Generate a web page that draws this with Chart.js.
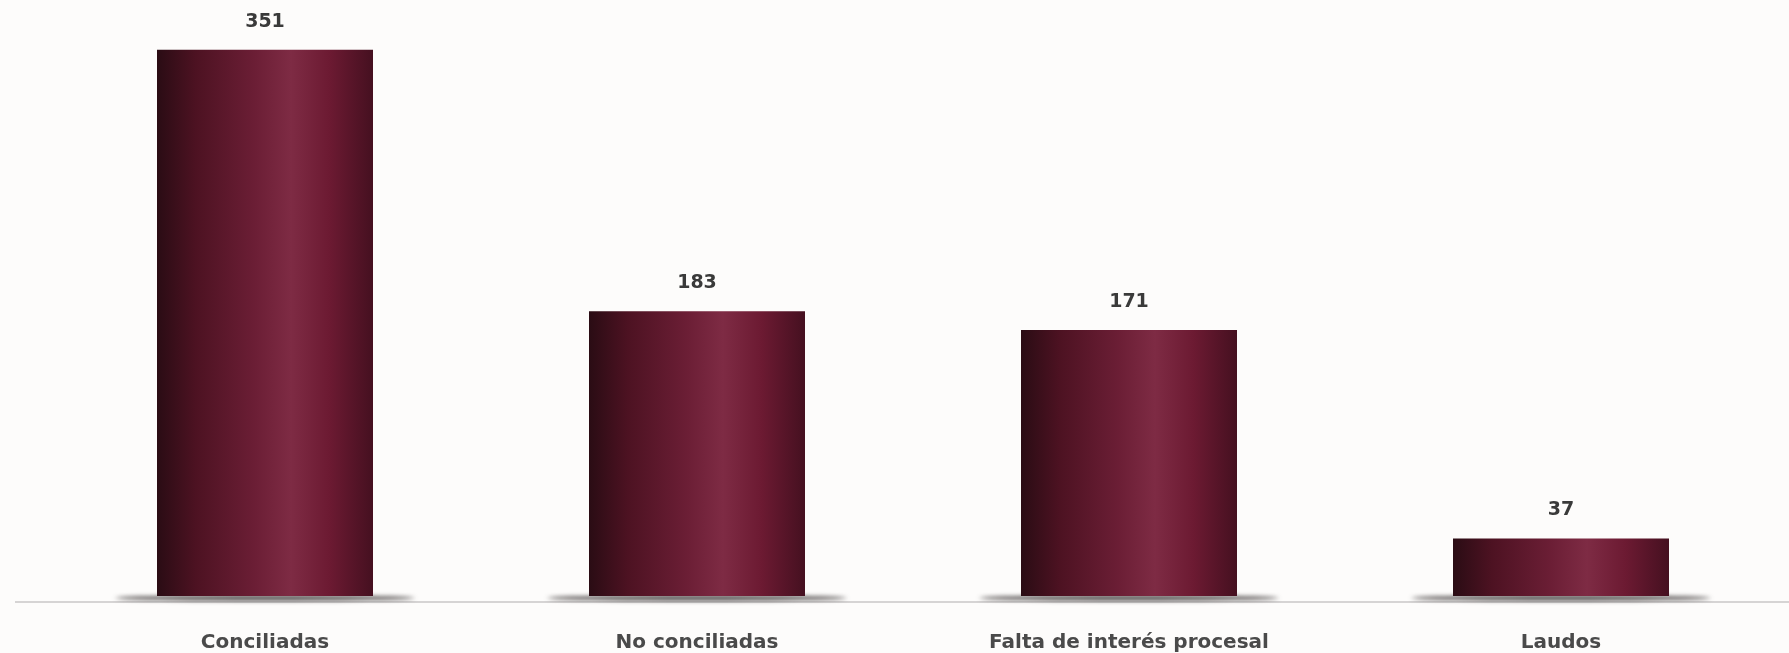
<!DOCTYPE html>
<html>
<head>
<meta charset="utf-8">
<script src="https://cdn.jsdelivr.net/npm/chart.js@4"></script>
<style>
  html, body { margin: 0; padding: 0; background: #fdfcfb; }
  #wrap { width: 1789px; height: 653px; position: relative; }
</style>
</head>
<body>
<div id="wrap"><canvas id="c" width="1789" height="653"></canvas></div>
<script>
const categories = ["Conciliadas", "No conciliadas", "Falta de interés procesal", "Laudos"];
const values = [351, 183, 171, 37];

function barGradient(context) {
  const chart = context.chart;
  const xs = chart.scales.x;
  if (!xs || !chart.chartArea) return '#6a1a30';
  const cx = xs.getPixelForValue(context.dataIndex);
  const w = (xs.width / categories.length) * 0.5;
  const g = chart.ctx.createLinearGradient(cx - w / 2, 0, cx + w / 2, 0);
  g.addColorStop(0, '#2a0c14');
  g.addColorStop(0.18, '#4d1222');
  g.addColorStop(0.45, '#6b1e35');
  g.addColorStop(0.62, '#7e2b44');
  g.addColorStop(0.8, '#6c1a32');
  g.addColorStop(1, '#451020');
  return g;
}

const decor = {
  id: 'decor',
  beforeDatasetsDraw(chart) {
    const ctx = chart.ctx;
    const area = chart.chartArea;
    ctx.save();
    ctx.strokeStyle = '#d6d4d4';
    ctx.lineWidth = 2;
    ctx.beginPath();
    ctx.moveTo(15, area.bottom + 6);
    ctx.lineTo(chart.width, area.bottom + 6);
    ctx.stroke();
    const meta = chart.getDatasetMeta(0);
    meta.data.forEach((bar) => {
      const w = bar.width;
      ctx.save();
      ctx.filter = 'blur(2px)';
      ctx.fillStyle = 'rgba(45,40,40,0.75)';
      ctx.beginPath();
      ctx.ellipse(bar.x, area.bottom + 2, w / 2 + 42, 3, 0, 0, Math.PI * 2);
      ctx.fill();
      ctx.restore();
    });
    ctx.restore();
  },
  afterDatasetsDraw(chart) {
    const ctx = chart.ctx;
    const meta = chart.getDatasetMeta(0);
    ctx.save();
    ctx.font = 'bold 19px "DejaVu Sans"';
    ctx.fillStyle = '#3a3a3a';
    ctx.textAlign = 'center';
    ctx.textBaseline = 'middle';
    meta.data.forEach((bar, i) => {
      ctx.fillText(String(values[i]), bar.x, bar.y - 28);
    });
    ctx.restore();
  }
};

new Chart(document.getElementById('c'), {
  type: 'bar',
  data: {
    labels: categories,
    datasets: [{
      data: values,
      backgroundColor: barGradient,
      borderWidth: 0,
      barPercentage: 0.5,
      categoryPercentage: 1.0
    }]
  },
  options: {
    responsive: false,
    animation: false,
    layout: { padding: { left: 49, right: 12, top: 0, bottom: 0 } },
    plugins: { legend: { display: false }, tooltip: { enabled: false } },
    scales: {
      x: {
        grid: { display: false, drawTicks: false },
        border: { display: false },
        afterFit(scale) { scale.height = 57; },
        ticks: {
          padding: 35,
          color: '#4a4a4a',
          font: { family: '"DejaVu Sans"', size: 20, weight: 'bold' },
          maxRotation: 0
        }
      },
      y: {
        display: false,
        min: 0,
        max: 383
      }
    }
  },
  plugins: [decor]
});
</script>
</body>
</html>
